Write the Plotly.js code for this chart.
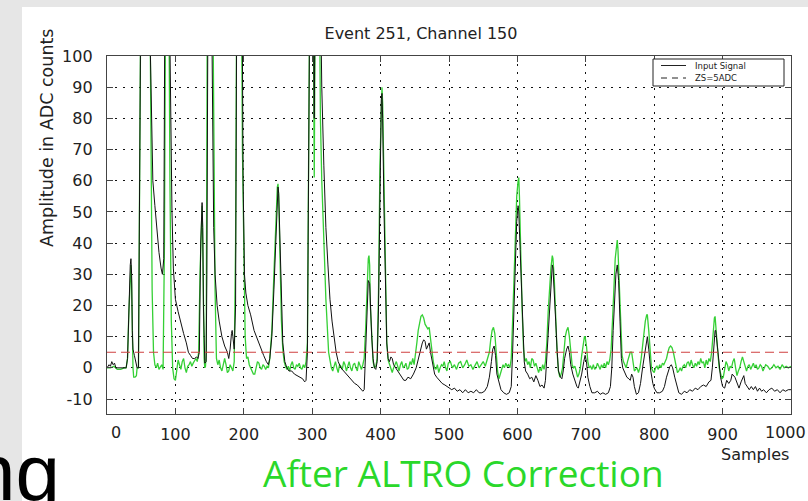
<!DOCTYPE html>
<html>
<head>
<meta charset="utf-8">
<script src="https://cdn.plot.ly/plotly-3.0.1.min.js"></script>
<style>
html,body{margin:0;padding:0;background:#e6e6e6;}
#chart{width:808px;height:501px;}
</style>
</head>
<body>
<div id="chart"></div>
<script>
// ---- data ----
const titleText = "Event 251, Channel 150";
const xTickVals = [0,100,200,300,400,500,600,700,800,900,1000];
const xTickText = ["","100","200","300","400","500","600","700","800","900",""];
const xEdgeLabels = ["0", "1000"];
const yTickVals = [-10,0,10,20,30,40,50,60,70,80,90,100];
const legendNames = ["Input Signal", "ZS=5ADC"];
const zsLevel = 5;
const zsSpan = [0, 1000];

const inputSamples = [0,3,5,7,9,11,13,28,30,32,34,35,36,37,38,40,42,44,46,48,50,60,63,65,67,70,73,76,79,81,83,85,90,93,95,97,100,104,108,112,116,119,122,125,128,131,133,135,137,139,140,141,143,145,146,148,152,154,156,158,161,164,168,172,176,178,180,182,183,184,186,188,190,197,199,201,203,206,210,215,220,225,229,233,236,238,241,244,247,249,250,251,253,255,257,260,263,266,270,274,278,282,286,289,291,293,295,297,301,303,305,311,314,317,320,323,326,329,332,335,338,342,346,350,354,358,362,366,370,374,376,378,380,382,384,385,387,389,391,393,395,397,399,401,402,403,405,407,409,411,413,415,417,419,422,426,430,434,437,440,444,448,452,455,458,461,463,465,467,469,471,473,476,479,482,486,490,494,497,500,504,508,512,516,520,524,528,532,536,540,544,548,552,556,559,562,564,566,568,570,573,576,580,584,588,591,593,595,597,599,601,602,604,606,608,610,612,615,618,621,624,627,630,633,636,639,641,643,645,647,649,651,652,654,656,658,660,663,665,667,669,672,674,676,678,681,684,687,689,691,694,697,699,701,703,706,709,713,717,721,725,729,733,736,738,740,742,744,746,748,750,752,754,757,760,763,765,767,769,771,774,777,780,783,786,788,790,792,795,798,800,804,808,812,815,818,821,823,825,827,830,833,836,840,844,848,852,856,860,864,868,872,876,880,883,885,887,889,890,892,894,897,900,903,906,909,912,914,918,921,924,927,931,933,936,939,942,945,948,951,954,957,960,964,968,972,976,980,984,988,992,996,1000];
const inputAmp = [0,1,0.5,2,1,1.5,0,0,3,20,33,35,30,12,6,4,2,0,0,60,140,140,100,75,60,52,44,37,32,30,35,140,140,80,50,32,22,18,14,11,8,5,4,3,3,3.5,3,5,40,53,45,20,1.5,2,30,140,140,80,45,30,20,15,10,7,5,3,6,11,12,10,6,20,140,140,60,30,24,20,17,12,9,6,4,2,1,3,10,25,45,56,58,56,40,20,8,2,0,-1,-1,-2,-2.5,-3,-3.5,-4.5,-4,5,60,140,140,80,140,140,90,65,45,33,22,15,9,5,2,0,-1,-2,-3,-4,-5,-5.5,-6.5,-7.5,-7,5,18,28,27,20,10,3,0,-0.5,2,20,60,86,88,80,50,25,8,3,2,3.5,3,1,0,-1.5,-3,-4,-4,-3,-3.5,-2,0,3,6,8,9,8.5,6,7,8,5,1,-2,-3,-4,-5,-5.5,-6,-6.5,-7,-6.5,-7.5,-7,-8,-7,-8,-7.5,-8,-7,-8,-8,-7.5,-6,-3,2,6,7,4,-2,-5,-7,-8,-8.5,-8,-6,5,20,35,47,52,50,38,24,10,2,-1,-2,-3.5,-3,-4.5,-2.5,-4,-6,-5.5,-6.5,-4,3,12,20,27,33,32,25,15,6,-1,-3,-3.5,-1,3,6,7,5,1,-2,-4,-6,-6.5,-5,-2,2,4,2,-3,-6,-8,-8,-7.5,-8.5,-8,-8.5,-8,-6,0,12,22,30,33,28,15,3,0,-1.5,-3,-3.5,-4,-2,-3,-6,-8.5,-8,-5,0,5,8,10,6,-1,-5,-6.5,-8,-8,-7.5,-6,-3,-1,0.5,1,0,-3,-6,-8,-8.5,-7.5,-8,-7,-7.5,-6.5,-7,-6,-5.5,-6,-4.5,-4,0,8,12,12,7,2,-3,-6,-6.5,-4,-5,-4,-2,-3,-5,-6.5,-4.5,-2.5,-5,-6,-7,-6,-7,-6,-7.5,-6.5,-7.5,-7,-8,-7,-6.5,-7.5,-7,-8,-7,-7.5,-7,-7];

const corrSamples = [0,5,10,15,20,25,28,30,32,34,35,36,37,38,39,41,43,44,46,48,50,62,64,66,68,70,72,74,76,78,80,82,84,86,90,92,94,96,98,100,102,104,106,108,110,112,114,116,118,120,122,124,126,128,130,132,134,136,138,139,140,141,142,143,144,145,146,147,154,156,158,160,162,164,166,168,170,172,174,176,178,180,182,184,186,188,190,196,198,200,202,204,206,208,210,212,214,216,218,220,222,224,226,228,230,232,234,236,238,241,244,247,249,250,251,253,255,257,259,261,263,265,267,269,271,273,275,277,279,281,283,285,287,289,291,293,295,297,301,303,305,310,312,314,316,318,320,322,324,326,328,330,332,334,336,338,340,342,344,346,348,350,352,354,356,358,360,362,364,366,368,370,372,374,376,378,380,382,383,384,385,387,389,391,393,395,397,399,401,402,403,405,407,409,411,413,415,417,419,421,423,425,427,429,431,433,435,437,439,441,443,445,447,449,451,453,455,457,459,461,463,465,467,469,471,473,475,477,479,481,483,485,487,489,491,493,495,497,499,502,505,508,511,514,517,520,523,526,529,532,535,538,541,544,547,550,553,555,557,559,561,563,565,567,569,571,573,575,577,579,581,583,585,587,589,591,593,595,597,599,601,602,603,605,607,609,611,613,615,617,619,621,623,625,627,629,631,633,635,637,639,641,643,645,647,649,651,652,654,656,658,660,662,664,666,668,670,672,674,676,678,680,682,684,686,688,690,692,694,696,698,699,701,703,705,707,709,711,713,715,717,719,721,723,725,727,729,731,733,735,737,739,741,743,745,746,747,749,751,753,755,757,759,761,763,765,767,769,771,773,775,777,779,781,783,785,787,789,790,792,794,796,798,800,802,804,806,808,810,812,814,816,818,820,822,824,826,828,830,832,834,836,838,840,842,844,846,848,850,852,854,856,858,860,862,864,866,868,870,872,874,876,878,880,882,884,886,888,889,891,893,895,897,899,901,903,905,907,909,911,913,915,917,919,921,923,925,927,929,931,933,935,937,939,941,943,945,947,949,951,953,955,957,959,961,963,966,969,972,975,978,981,984,987,990,993,996,1000];
const corrAmp = [0,0,0.5,-0.5,-0.5,0,0,3,18,31,33,27,8,0,-3,-3,-2.5,0,0,60,140,140,70,25,5,1,0,1.5,-0.5,0.5,1,-0.5,40,140,140,60,15,0,-3.5,-4,-1,2.5,1,-0.5,2,3,0,-1.5,0.5,1,2,0.5,1.5,2.5,3,2,5,30,50,52,40,15,3,0,0.5,5,60,140,140,70,25,3,1,2.5,0,-1,1,3,1,-1.5,-1,1,0,-1,2,40,140,140,70,40,10,3,3.5,1,0,-1,-2,-2,0,2,1.5,0,-0.5,1,0.5,-0.5,0.5,0,3,12,30,50,58,59,55,35,15,6,2,0.5,-0.5,0.5,-1,1,2,0,-0.5,1,0.5,1.5,0,-0.5,1,0,2,8,60,140,140,61,140,140,80,60,50,35,22,12,5,2.5,0,-1,1,2,0,-1.5,1,0.5,-0.5,2,1,-1,0.5,2,0,-1,1,1.5,0,-1,2,0.5,-0.5,1,3,12,25,35,36,33,20,8,2,0,0.5,3,25,65,88,90,85,55,25,8,2.5,1,0,-1.5,0,1,2,0.5,-1,1,2,0,0.5,1.5,-0.5,0,2,1,3,1,4,8,12,15,16.5,17,16,14,13,12.5,13,9,5,2,0,-0.5,1,-1.5,0,1,0.5,2,0,-1,1.5,2,0,1,-0.5,1.5,2,0,1,2.5,0.5,1,-0.5,1,2,0,1,2,0.5,2,3,5,9,12,13,11,5,-1,-3.5,-2,0,1,0,1.5,0.5,1,0,3,15,30,45,55,60,61,55,35,18,6,2,3,1,2,0,3,2.5,0.5,1.5,0,-1.5,0,-1,1,-0.5,2,8,18,26,32,36,35,28,16,5,-1,-3,-2,0,5,10,12,13,10,5,1,0,0.5,-1,-3,-2,0,4,8,10,10,7,2,0,0.5,-0.5,1,-0.5,0,1.5,0.5,-0.5,1,0,1.5,0,2,1,2.5,6,15,27,35,39,41,38,25,10,4,2,1,0,2,3.5,5,5,2,-1,-0.5,0,-1.5,0,3,7,12,15,17,17,12,5,0,-1,-1.5,0,0.5,-0.5,1,0,1.5,1,2,3,5,6.5,7,6.5,5,3,0,-1.5,-1,0,-1,0.5,1,0,1.5,2,0.5,2.5,1,0,1.5,0.5,2,1,3,1.5,2,0,2.5,1,3,2,5,12,16,16.5,12,5,0,-2,-3.5,-3,-1,2,1,-1,0.5,0,2,3,0,-2.5,-1,0,2,3.5,2,0,-1,0.5,1,-0.5,0.5,1.5,0,1,-0.5,0,1,0.5,-1,0,1,0.5,-0.5,0,1,0,0.5,-0.5,1,0,0.5,0,0.5];

// ---- geometry helpers (layout only) ----
const W = 808, H = 501;
const mL = 107, mR = 17, mT = 56, mB = 87;
const pw = W - mL - mR, ph = H - mT - mB;
const px2x = p => (p - mL) / pw;
const py2y = p => (H - mB - p) / ph;

const fontMain = "DejaVu Sans, Liberation Sans, Arial, sans-serif";
const txt = '#222';

const traces = [
  {
    x: corrSamples, y: corrAmp, type: 'scatter', mode: 'lines',
    line: {color: '#35d035', width: 1.3}, showlegend: false, name: 'ALTRO corrected'
  },
  {
    x: inputSamples, y: inputAmp, type: 'scatter', mode: 'lines',
    line: {color: '#111111', width: 1}, showlegend: false, name: legendNames[0]
  },
  {
    x: zsSpan, y: [zsLevel, zsLevel], type: 'scatter', mode: 'lines',
    line: {color: '#d04040', width: 1.2, dash: '9px,5px'}, showlegend: false, name: legendNames[1]
  }
];

// legend box drawn by hand (ROOT style)
const lgX0 = 653, lgX1 = 784, lgY0 = 59, lgY1 = 86;
const lgRows = [65.5, 78];

const shapes = [
  {type: 'rect', xref: 'paper', yref: 'paper', layer: 'below',
   x0: px2x(22), x1: px2x(W + 5), y0: py2y(H + 5), y1: py2y(7),
   fillcolor: '#ffffff', line: {width: 0}},
  {type: 'rect', xref: 'paper', yref: 'paper', layer: 'above',
   x0: px2x(lgX0), x1: px2x(lgX1), y0: py2y(lgY1), y1: py2y(lgY0),
   fillcolor: '#ffffff', line: {color: '#222', width: 1}},
  {type: 'line', xref: 'paper', yref: 'paper', layer: 'above',
   x0: px2x(661), x1: px2x(686), y0: py2y(lgRows[0]), y1: py2y(lgRows[0]),
   line: {color: '#222', width: 1}},
  {type: 'line', xref: 'paper', yref: 'paper', layer: 'above',
   x0: px2x(661), x1: px2x(686), y0: py2y(lgRows[1]), y1: py2y(lgRows[1]),
   line: {color: '#222', width: 1, dash: '6px,5px'}}
];

const annotations = [
  {text: legendNames[0], xref: 'paper', yref: 'paper', x: px2x(693), y: py2y(lgRows[0]),
   xanchor: 'left', yanchor: 'middle', showarrow: false,
   font: {family: fontMain, size: 8.5, color: txt}},
  {text: legendNames[1], xref: 'paper', yref: 'paper', x: px2x(693), y: py2y(lgRows[1]),
   xanchor: 'left', yanchor: 'middle', showarrow: false,
   font: {family: fontMain, size: 8.5, color: txt}},
  {text: 'Amplitude in ADC counts', xref: 'paper', yref: 'paper', x: px2x(47), y: py2y(138),
   xanchor: 'center', yanchor: 'middle', textangle: -90, showarrow: false,
   font: {family: fontMain, size: 17.5, color: txt}},
  {text: xEdgeLabels[0], xref: 'paper', yref: 'paper', x: px2x(116), y: py2y(432),
   xanchor: 'center', yanchor: 'middle', showarrow: false,
   font: {family: fontMain, size: 16, color: txt}},
  {text: xEdgeLabels[1], xref: 'paper', yref: 'paper', x: px2x(785), y: py2y(432),
   xanchor: 'center', yanchor: 'middle', showarrow: false,
   font: {family: fontMain, size: 16, color: txt}},
  {text: 'Samples', xref: 'paper', yref: 'paper', x: px2x(791), y: py2y(455),
   xanchor: 'right', yanchor: 'middle', showarrow: false,
   font: {family: fontMain, size: 16, color: txt}},
  {text: 'After ALTRO Correction', xref: 'paper', yref: 'paper', x: px2x(464), y: py2y(500),
   xanchor: 'center', yanchor: 'bottom', showarrow: false,
   font: {family: 'Open Sans, Lato, sans-serif', size: 37, color: '#2ad82a'}},
  {text: 'ng', xref: 'paper', yref: 'paper', x: px2x(62), y: py2y(472),
   xanchor: 'right', yanchor: 'middle', showarrow: false,
   font: {family: 'Liberation Sans Narrow, Arial Narrow, Liberation Sans, sans-serif', size: 80, color: '#000'}}
];

const axisCommon = {
  showgrid: true, gridcolor: '#111', gridwidth: 1, griddash: '2px,6px',
  zeroline: false, showline: true, linecolor: '#444', linewidth: 1.2, mirror: 'ticks',
  ticks: 'inside', ticklen: 6, tickcolor: '#444',
  tickfont: {family: fontMain, size: 16, color: txt}
};

const layout = {
  width: W, height: H,
  margin: {l: mL, r: mR, t: mT, b: mB, pad: 0},
  paper_bgcolor: '#e6e6e6',
  plot_bgcolor: '#ffffff',
  font: {family: fontMain, size: 16, color: txt},
  showlegend: false,
  title: {
    text: titleText, font: {family: fontMain, size: 16, color: txt},
    x: 421 / W, xref: 'container', xanchor: 'center',
    y: 1 - 33 / H, yref: 'container', yanchor: 'middle'
  },
  xaxis: Object.assign({}, axisCommon, {
    range: [0, 1000], tickvals: xTickVals, ticktext: xTickText, ticklabelstandoff: 6
  }),
  yaxis: Object.assign({}, axisCommon, {
    range: [-14.8, 100], tickvals: yTickVals, ticktext: yTickVals.map(String), ticklabelstandoff: 10
  }),
  shapes: shapes,
  annotations: annotations
};

Plotly.newPlot('chart', traces, layout, {displayModeBar: false, staticPlot: true});
</script>
</body>
</html>
